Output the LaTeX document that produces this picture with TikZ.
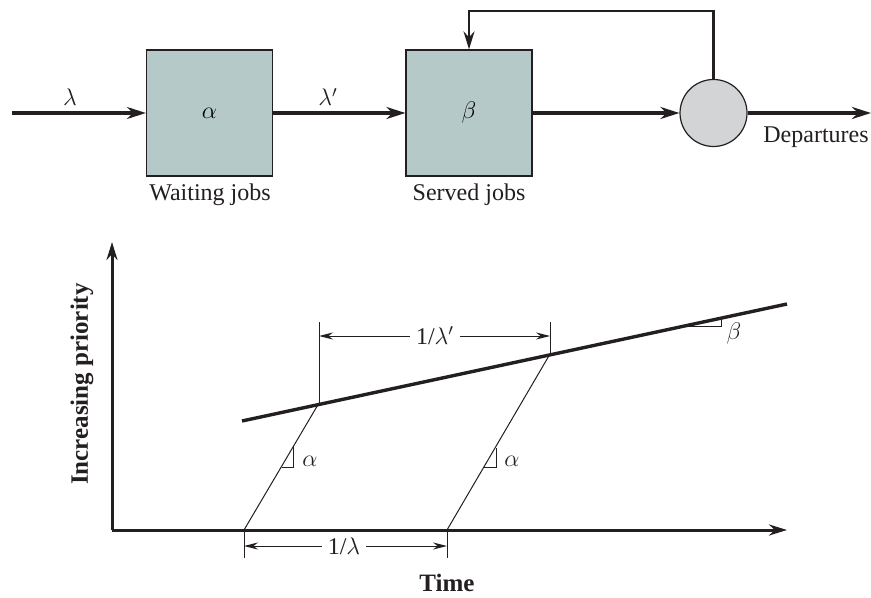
\documentclass[tikz,border=0pt]{standalone}
\usepackage{fontspec}
\setmainfont{Liberation Serif}
\usetikzlibrary{arrows.meta,positioning}
\definecolor{boxfill}{HTML}{B5C9C8}
\definecolor{circfill}{HTML}{D3D4D6}
\definecolor{ink}{HTML}{231F20}
\tikzset{
  qbox/.style={draw=ink,line width=0.6pt,fill=boxfill,minimum width=63pt,minimum height=63pt,inner sep=0pt},
  server/.style={circle,draw=ink,line width=0.6pt,fill=circfill,minimum size=33.5pt,inner sep=0pt},
  flow/.style={draw=ink,line width=2pt,-{Stealth[length=9.5pt,width=6pt]}},
  feed/.style={draw=ink,line width=1.1pt,-{Stealth[length=9pt,width=5.5pt]}},
  axis/.style={draw=ink,line width=1.5pt,-{Stealth[length=9pt,width=5.5pt]}},
  prio/.style={draw=ink,line width=1.7pt},
  fine/.style={draw=ink,line width=0.5pt},
  dim/.style={draw=ink,line width=0.5pt,{Stealth[length=7pt,width=3.5pt]}-{Stealth[length=7pt,width=3.5pt]}},
  lbl/.style={font=\fontsize{12}{14}\selectfont,text=ink,inner sep=1pt},
  dimlbl/.style={lbl,fill=white,inner sep=3pt},
  boldlbl/.style={font=\fontsize{12.5}{14}\selectfont\bfseries,text=ink,inner sep=0pt}
}
\begin{document}
\begin{tikzpicture}[x=0.5pt,y=-0.5pt]
\useasboundingbox (0,0) rectangle (871,598);
% ---------- queueing system ----------
\node[qbox] (A) at (209.5,113) {\fontsize{12}{14}\selectfont$\alpha$};
\node[qbox] (B) at (469,113) {\fontsize{12}{14}\selectfont$\beta$};
\node[server] (C) at (713.5,113) {};
\coordinate (in) at (12,113);
\coordinate (out) at (871,113);
\coordinate (fb) at (713.5,11);
\draw[flow] (in) -- (A);
\draw[flow] (A) -- (B);
\draw[flow] (B) -- (C);
\draw[flow] (C) -- (out);
\draw[feed] (C.north) -- (fb) -| (B.north);
\node[lbl] (lam) at (70,97) {$\lambda$};
\node[lbl] (lamp) at (328,97) {$\lambda'$};
\node[lbl] (wj) at (210,195) {Waiting jobs};
\node[lbl] (sj) at (469,195) {Served jobs};
\node[lbl] (dep) at (816,137) {Departures};
% ---------- priority plot ----------
\coordinate (O) at (112,530);
\coordinate (ytip) at (112,242);
\coordinate (xtip) at (787,530);
\draw[axis] (O) -- (ytip);
\draw[axis] (O) -- (xtip);
\coordinate (p0) at (242,421);
\coordinate (p1) at (787,304);
\draw[prio] (p0) -- (p1);
\coordinate (a0) at (244,530);
\coordinate (a1) at (319,403);
\coordinate (b0) at (447,530);
\coordinate (b1) at (550,354);
\draw[fine] (a0) -- (a1);
\draw[fine] (b0) -- (b1);
% vertical extension ticks
\coordinate (a1t) at (319,322);
\coordinate (b1t) at (550,322);
\draw[fine] (a1) -- (a1t);
\draw[fine] (b1) -- (b1t);
\coordinate (a0t) at (244,558);
\coordinate (b0t) at (447,558);
\draw[fine] (a0) -- (a0t);
\draw[fine] (b0) -- (b0t);
% dimension arrows
\coordinate (d1l) at (319,336);
\coordinate (d1r) at (550,336);
\draw[dim] (d1l) -- (d1r);
\node[dimlbl] (d1) at (435,336) {1/$\lambda'$};
\coordinate (d2l) at (244,546);
\coordinate (d2r) at (447,546);
\draw[dim] (d2l) -- (d2r);
\node[dimlbl] (d2) at (344,546) {1/$\lambda$};
% slope triangles
\draw[fine] (281.5,467) -- (293.5,467) -- (293.5,446);
\node[lbl] (al1) at (310,461) {$\alpha$};
\draw[fine] (484,467) -- (496.5,467) -- (496.5,448);
\node[lbl] (al2) at (512,461) {$\alpha$};
\draw[fine] (684.5,326) -- (721,326) -- (721,318.2);
\node[lbl] (be) at (734,333) {$\beta$};
% axis labels
\node[boldlbl,rotate=90] (ylab) at (82,384) {Increasing priority};
\node[boldlbl] (xlab) at (447,583) {Time};
\end{tikzpicture}
\end{document}
